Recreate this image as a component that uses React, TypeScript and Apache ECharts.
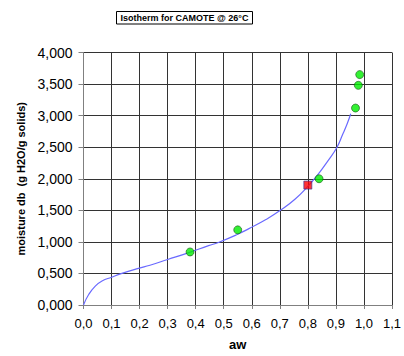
import React, { useEffect, useRef } from "react";
import * as echarts from "echarts";

const titleText = "Isotherm for CAMOTE @ 26°C";
const xAxisName = "aw";
const yAxisName = "moisture db  (g H2O/g solids)";

// Fitted isotherm curve
const curveAw = [0, 0.019, 0.042, 0.066, 0.1, 0.137, 0.196, 0.237, 0.3, 0.376, 0.446, 0.481, 0.55, 0.59, 0.649, 0.702, 0.755, 0.8, 0.835, 0.871, 0.904, 0.924, 0.941, 0.953];
const curveM = [0, 0.17, 0.3, 0.38, 0.44, 0.5, 0.58, 0.63, 0.72, 0.83, 0.94, 0.99, 1.12, 1.21, 1.35, 1.5, 1.68, 1.88, 2.06, 2.28, 2.5, 2.7, 2.88, 3.03];

// Experimental points
const expAw = [0.38, 0.55, 0.84, 0.97, 0.98, 0.985];
const expM = [0.84, 1.19, 2.0, 3.12, 3.48, 3.65];

// Highlighted point
const redAw = [0.8];
const redM = [1.9];

const FONT = "Liberation Sans, Arial, sans-serif";

export default function App() {
  const ref = useRef<HTMLDivElement>(null);
  useEffect(() => {
    document.body.style.margin = "0";
    const chart = echarts.init(ref.current!, null, { renderer: "svg" });
    chart.setOption({
      animation: false,
      backgroundColor: "#ffffff",
      textStyle: { fontFamily: FONT },
      graphic: [
        {
          type: "rect",
          shape: { x: 116.5, y: 11.5, width: 136, height: 12.5 },
          style: { fill: "#ffffff", stroke: "#000000", lineWidth: 1 },
          z: 10,
        },
        {
          type: "text",
          x: 184.5,
          y: 18,
          style: {
            text: titleText,
            fontFamily: FONT,
            fontSize: 9,
            fontWeight: "bold",
            fill: "#000000",
            align: "center",
            verticalAlign: "middle",
          },
          z: 11,
        },
      ],
      grid: { left: 83.5, right: 9.5, top: 52.5, bottom: 45.5, containLabel: false },
      xAxis: {
        type: "value",
        min: 0,
        max: 1.1,
        interval: 0.1,
        name: xAxisName,
        nameLocation: "middle",
        nameGap: 33,
        nameTextStyle: { fontFamily: FONT, fontSize: 13, fontWeight: "bold", color: "#000" },
        axisLine: { show: true, lineStyle: { color: "#808080", width: 1 } },
        axisTick: { show: true, length: 4, lineStyle: { color: "#808080" } },
        axisLabel: {
          fontFamily: FONT,
          fontSize: 13,
          color: "#000",
          margin: 12,
          formatter: (v: number) => v.toFixed(1).replace(".", ","),
        },
        splitLine: { show: true, lineStyle: { color: "#333333", width: 1 } },
      },
      yAxis: {
        type: "value",
        min: 0,
        max: 4,
        interval: 0.5,
        name: yAxisName,
        nameLocation: "middle",
        nameGap: 53,
        nameTextStyle: { fontFamily: FONT, fontSize: 11, fontWeight: "bold", color: "#000" },
        axisLine: { show: true, lineStyle: { color: "#808080", width: 1 } },
        axisTick: { show: true, length: 5, lineStyle: { color: "#808080" } },
        axisLabel: {
          fontFamily: FONT,
          fontSize: 14,
          color: "#000",
          margin: 11,
          formatter: (v: number) => v.toFixed(3).replace(".", ","),
        },
        splitLine: { show: true, lineStyle: { color: "#333333", width: 1 } },
      },
      series: [
        {
          type: "line",
          data: curveAw.map((a, i) => [a, curveM[i]]),
          showSymbol: false,
          smooth: 0.5,
          lineStyle: { color: "#6a6aff", width: 1.2 },
          z: 2,
        },
        {
          type: "scatter",
          data: expAw.map((a, i) => [a, expM[i]]),
          symbol: "circle",
          symbolSize: 8,
          itemStyle: { color: "#00ee00", borderColor: "#1a5a1a", borderWidth: 0.8 },
          z: 3,
        },
        {
          type: "scatter",
          data: redAw.map((a, i) => [a, redM[i]]),
          symbol: "rect",
          symbolSize: 8,
          itemStyle: { color: "#ff0000", borderColor: "#333399", borderWidth: 0.8 },
          z: 4,
        },
      ],
    });
    return () => chart.dispose();
  }, []);
  return <div ref={ref} style={{ width: 404, height: 356 }} />;
}
